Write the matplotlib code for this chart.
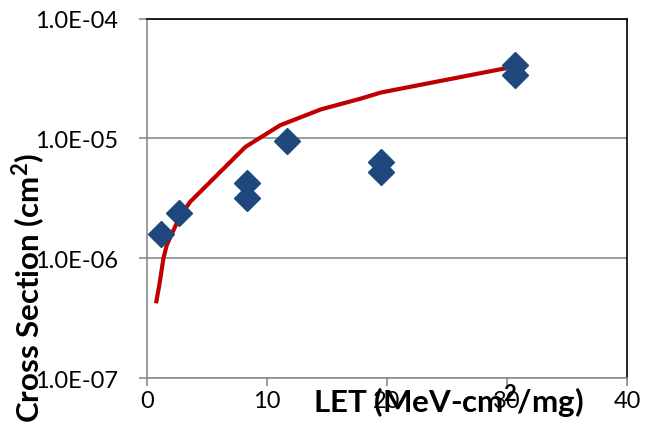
import matplotlib.pyplot as plt
import numpy as np
from matplotlib.ticker import FixedLocator, FuncFormatter

# heavy-ion test results
let_meas = [1.2, 2.7, 8.3, 8.3, 11.7, 19.5, 19.5, 30.7, 30.7]
xs_meas = [1.58e-6, 2.37e-6, 4.27e-6, 3.16e-6, 9.5e-6, 6.4e-6, 5.27e-6, 4.08e-5, 3.41e-5]

# model curve
let_fit = [0.75, 1.03, 1.37, 1.65, 2.7, 3.6, 8.2, 11.1, 14.5, 17.8, 19.5, 30.7]
xs_fit = [4.2e-7, 6.0e-7, 1.0e-6, 1.29e-6, 2.2e-6, 2.96e-6, 8.5e-6, 1.29e-5, 1.75e-5, 2.15e-5, 2.42e-5, 4.0e-5]

plt.rcParams['font.family'] = ['Lato', 'DejaVu Sans']
plt.rcParams['mathtext.fontset'] = 'custom'
plt.rcParams['mathtext.rm'] = 'Lato'
plt.rcParams['mathtext.bf'] = 'Lato:bold'

fig = plt.figure(figsize=(6.57, 4.39), dpi=100)
ax = fig.add_axes([147 / 657, 1 - 379 / 439, 480 / 657, 359.3 / 439])

ax.plot(let_fit, xs_fit, color='#C00000', lw=3, zorder=3, solid_capstyle='butt')
ax.plot(let_meas, xs_meas, ls='none', marker='D', ms=13, color='#1F497D', zorder=4)

ax.set_yscale('log')
ax.set_xlim(0, 40)
ax.set_ylim(1e-7, 1e-4)
ax.xaxis.set_major_locator(FixedLocator([0, 10, 20, 30, 40]))
ax.yaxis.set_major_locator(FixedLocator([1e-7, 1e-6, 1e-5, 1e-4]))
ax.yaxis.set_minor_locator(FixedLocator([]))
ax.yaxis.set_major_formatter(FuncFormatter(lambda v, p: '%.1E' % v))
ax.grid(axis='y', color='#8C8C8C', lw=1.2)

for s in ['left', 'bottom']:
    ax.spines[s].set_color('#8C8C8C')
    ax.spines[s].set_linewidth(1.2)
for s in ['top', 'right']:
    ax.spines[s].set_color('black')
    ax.spines[s].set_linewidth(1.2)

ax.tick_params(axis='both', colors='#8C8C8C', labelcolor='black', labelsize=17,
               length=6, width=1.2)
ax.tick_params(axis='y', pad=15)
ax.tick_params(axis='x', pad=3)

ax.set_xlabel(r'LET (MeV-cm$^{\mathbf{2}}$/mg)', fontsize=22.5, fontweight='bold')
ax.set_ylabel(r'Cross Section (cm$^{\mathbf{2}}$)', fontsize=22.5, fontweight='bold')
ax.xaxis.set_label_coords(0.627, -0.064)
ax.xaxis.label.set_va('center')
ax.yaxis.set_label_coords(-0.245, 0.253)
ax.yaxis.label.set_va('center')

fig.savefig('out.png', dpi=100)
